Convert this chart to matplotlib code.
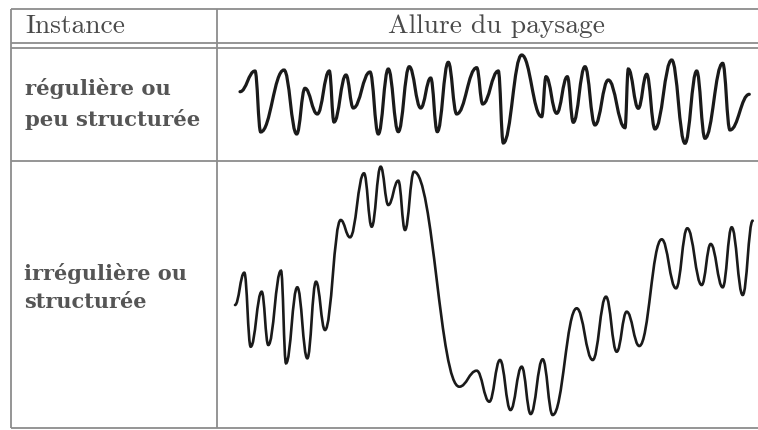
import numpy as np
import matplotlib
matplotlib.use('Agg')
from matplotlib import pyplot as plt
from matplotlib.path import Path
from matplotlib.patches import PathPatch

# en-têtes et libellés du tableau
header_left = 'Instance'
header_right = 'Allure du paysage'
row_labels = ['régulière ou\npeu structurée', 'irrégulière ou\nstructurée']

# paysage régulier : extrema successifs (position, hauteur)
reg_x = [240, 255, 260.7, 284, 296.7, 305, 317.3, 329.3, 334, 346, 353.3, 370,
         378.3, 388.3, 398.3, 409.3, 420.7, 430.7, 437.3, 448.3, 456.7, 476.7,
         482.7, 498.3, 503.3, 521.7, 541.7, 546, 556.7, 567.3, 573.3, 585, 595,
         608.3, 625, 628.3, 638.3, 646.7, 655, 671.7, 685, 696.7, 705, 722.7,
         730, 749.3]
reg_y = [91.7, 71, 132, 70, 134, 88.3, 114, 71, 122, 75, 108, 72,
         134, 69, 131.7, 66.7, 108, 78, 131.7, 62.3, 114, 67.7,
         104, 71, 143, 55, 116.7, 76.7, 113.3, 76.7, 122.3, 66.7, 125,
         80, 127.7, 69, 108.3, 74.3, 129, 60, 143.3, 71, 138.3, 63.3,
         130, 94.3]

# paysage irrégulier
irr_x = [235, 244.3, 250.7, 261.7, 268.3, 281, 286, 297.3, 307.3, 316, 325,
         340.7, 350, 364, 371.7, 380.7, 388.3, 398.3, 405, 414, 459.3, 476.7,
         489.3, 500, 510.5, 521.7, 530.7, 542.7, 552.7, 576.7, 592.7, 606,
         616.7, 626.7, 639.3, 661.7, 676, 687.3, 701.7, 710.7, 722.7, 731.7,
         742.7, 752.7]
irr_y = [305, 272.7, 346.7, 291.7, 345, 270.7, 363.3, 287.3, 358.3, 281.7, 330,
         220, 237.3, 173.3, 226.7, 166.7, 205, 180.7, 230, 171.7, 386.7, 370.7,
         401.7, 360, 410, 366.7, 414, 359.3, 415, 308.3, 360, 296.7,
         351.7, 311.7, 346, 239.3, 288.3, 228.3, 285, 244, 287.3, 227.3,
         295, 220.7]


def smooth_path(xs, ys, k=0.42):
    '''Chemin de Bézier à tangentes horizontales aux extrema.'''
    verts = [(xs[0], ys[0])]
    codes = [Path.MOVETO]
    for i in range(len(xs) - 1):
        dx = xs[i + 1] - xs[i]
        verts += [(xs[i] + k * dx, ys[i]), (xs[i + 1] - k * dx, ys[i + 1]),
                  (xs[i + 1], ys[i + 1])]
        codes += [Path.CURVE4] * 3
    return Path(verts, codes)


fig = plt.figure(figsize=(7.58, 4.30), dpi=100)
ax = fig.add_axes([0, 0, 1, 1])
ax.set_xlim(0, 758)
ax.set_ylim(430, 0)
ax.axis('off')

line_col = '#8c8c8c'
lw = 1.3
# lignes horizontales
for y in [9, 43, 48, 161, 428]:
    ax.plot([11, 758], [y, y], color=line_col, lw=lw, solid_capstyle='butt')
# lignes verticales
for x in [11, 217]:
    ax.plot([x, x], [9, 428], color=line_col, lw=lw, solid_capstyle='butt')

txt_col = '#555555'
ax.text(25, 26, header_left, fontsize=19.8, family=['cmr10', 'DejaVu Serif'],
        color='#4a4a4a', va='center', ha='left')
ax.text(496, 26, header_right, fontsize=19.8, family=['cmr10', 'DejaVu Serif'],
        color='#4a4a4a', va='center', ha='center')
ax.text(25, 104, row_labels[0], fontsize=15.2, family='DejaVu Serif',
        weight='bold', color=txt_col, va='center', ha='left', linespacing=1.6)
ax.text(24, 287, row_labels[1], fontsize=15, family='DejaVu Serif',
        weight='bold', color=txt_col, va='center', ha='left', linespacing=1.5)

ax.add_patch(PathPatch(smooth_path(reg_x, reg_y), facecolor='none',
                       edgecolor='#1a1a1a', lw=2.3, capstyle='round'))
ax.add_patch(PathPatch(smooth_path(irr_x, irr_y), facecolor='none',
                       edgecolor='#1a1a1a', lw=1.9, capstyle='round'))

plt.savefig('out.png', dpi=100)
plt.close()
